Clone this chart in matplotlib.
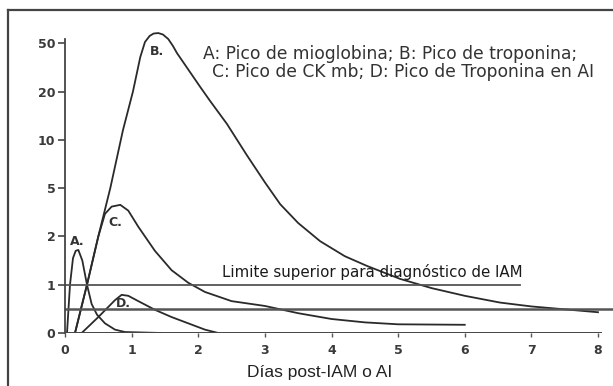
import numpy as np
import matplotlib
matplotlib.use('Agg')
import matplotlib.pyplot as plt
from matplotlib.lines import Line2D

# y axis of the original is not linear: the ticks are equally spaced
ytick_vals = [0, 1, 2, 5, 10, 20, 50]
xtick_vals = [0, 1, 2, 3, 4, 5, 6, 7, 8]

# A: mioglobina
a_x = [0.03, 0.075, 0.12, 0.16, 0.2, 0.26, 0.33, 0.4, 0.48, 0.6, 0.75, 0.9, 1.45]
a_y = [0.0, 1.0, 1.55, 1.7, 1.72, 1.5, 1.0, 0.6, 0.38, 0.2, 0.07, 0.02, 0.0]

# B: troponina
b_x = [0.15, 0.33, 0.5, 0.68, 0.87, 1.02, 1.13, 1.2, 1.27, 1.33, 1.4, 1.47, 1.55, 1.62,
       1.68, 2.03, 2.18, 2.43, 2.73, 3.0, 3.23, 3.5, 3.83, 4.2, 4.53, 5.03, 5.5, 6.0,
       6.53, 7.0, 7.5, 8.0]
b_y = [0.0, 1.0, 2.0, 5.0, 12, 20, 41.4, 51.2, 57.5, 60, 60.5, 59, 54.3, 48.3,
       43.9, 22.8, 18.0, 13.3, 8.4, 5.6, 4.0, 2.83, 1.9, 1.59, 1.39, 1.12, 0.93, 0.77,
       0.63, 0.55, 0.49, 0.43]

# C: CK mb
c_x = [0.15, 0.33, 0.5, 0.6, 0.7, 0.83, 0.95, 1.1, 1.35, 1.6, 1.85, 2.1, 2.5, 3.0,
       3.5, 4.0, 4.5, 5.0, 6.0]
c_y = [0.0, 1.0, 2.0, 3.4, 3.85, 3.96, 3.6, 2.6, 1.7, 1.3, 1.04, 0.85, 0.66, 0.56,
       0.41, 0.29, 0.22, 0.18, 0.17]

# D: troponina en AI
d_x = [0.25, 0.5, 0.75, 0.85, 0.95, 1.1, 1.35, 1.6, 1.85, 2.1, 2.3]
d_y = [0.0, 0.33, 0.68, 0.79, 0.77, 0.66, 0.48, 0.33, 0.2, 0.07, 0.0]

limit_iam = 1.0
limit_ai = 0.5

grid_vals = ytick_vals + [100]
grid_idx = list(range(len(grid_vals)))


def fwd(v):
    return np.interp(v, grid_vals, grid_idx)


def inv(i):
    return np.interp(i, grid_idx, grid_vals)


def main():
    W, H = 613, 386
    fig = plt.figure(figsize=(W / 100, H / 100), dpi=100)
    fig.patch.set_facecolor('white')

    # outer frame of the scan
    fig.add_artist(Line2D([8 / W, 8 / W], [0, 1 - 10 / H], transform=fig.transFigure,
                          color='#444444', lw=1.6))
    fig.add_artist(Line2D([8 / W, 1], [1 - 10 / H, 1 - 10 / H], transform=fig.transFigure,
                          color='#444444', lw=1.6))

    x0, x8 = 65, 598
    y0, ystep = 333, 48.3
    xmax = 8.25
    ytop = 6.3
    ax = fig.add_axes([x0 / W, (H - y0) / H,
                       (x8 - x0) / 8 * xmax / W, ytop * ystep / H])
    ax.set_yscale('function', functions=(fwd, inv))
    ax.set_xlim(0, xmax)
    ax.set_ylim(0, inv(ytop))

    lc = '#2a2a2a'
    for xs, ys in [(a_x, a_y), (b_x, b_y), (c_x, c_y), (d_x, d_y)]:
        ax.plot(xs, ys, color=lc, lw=1.3, solid_joinstyle='round')

    ax.plot([0, 6.83], [limit_iam, limit_iam], color='#555555', lw=1.3)
    ax.plot([0, xmax], [limit_ai, limit_ai], color='#555555', lw=1.8)
    ax.plot([0, 8.05], [0, 0], color='#444444', lw=1.4)

    for s in ax.spines.values():
        s.set_visible(False)
    ax.spines['left'].set_visible(True)
    ax.spines['left'].set_color('#444444')
    ax.spines['left'].set_linewidth(1.3)
    ax.spines['left'].set_bounds(0, 54)

    ax.set_yticks(ytick_vals)
    ax.set_yticklabels([str(v) for v in ytick_vals])
    ax.set_xticks(xtick_vals)
    ax.set_xticklabels([str(v) for v in xtick_vals])
    ax.tick_params(axis='y', length=5, width=1.2, color='#444444', pad=2,
                   labelsize=9, labelcolor='#3a3a3a')
    ax.tick_params(axis='x', length=3, width=1, color='#555555', pad=5,
                   labelsize=9, labelcolor='#3a3a3a')
    for lab in ax.get_xticklabels() + ax.get_yticklabels():
        lab.set_fontweight('bold')
    ax.patch.set_alpha(0)

    tc = '#333333'
    for lx, ly, s in [(0.18, 1.9, 'A.'), (1.38, 45, 'B.'), (0.75, 2.85, 'C.'), (0.87, 0.62, 'D.')]:
        ax.text(lx, ly, s, fontsize=9, color=tc, fontweight='bold',
                ha='center', va='center')

    fig.text(203 / W, 1 - 54 / H, 'A: Pico de mioglobina; B: Pico de troponina;',
             fontsize=12.3, color=tc, va='center', ha='left')
    fig.text(212 / W, 1 - 72 / H, 'C: Pico de CK mb; D: Pico de Troponina en AI',
             fontsize=12.3, color=tc, va='center', ha='left')
    fig.text(222 / W, 1 - 272 / H, 'Limite superior para diagnóstico de IAM',
             fontsize=10.8, color='#1a1a1a', va='center', ha='left')

    fig.text(320 / W, 1 - 373 / H, 'Días post-IAM o AI', fontsize=12.5,
             color='#222222', family='Liberation Sans', va='center', ha='center')

    fig.savefig('out.png', dpi=100)


if __name__ == '__main__':
    main()
